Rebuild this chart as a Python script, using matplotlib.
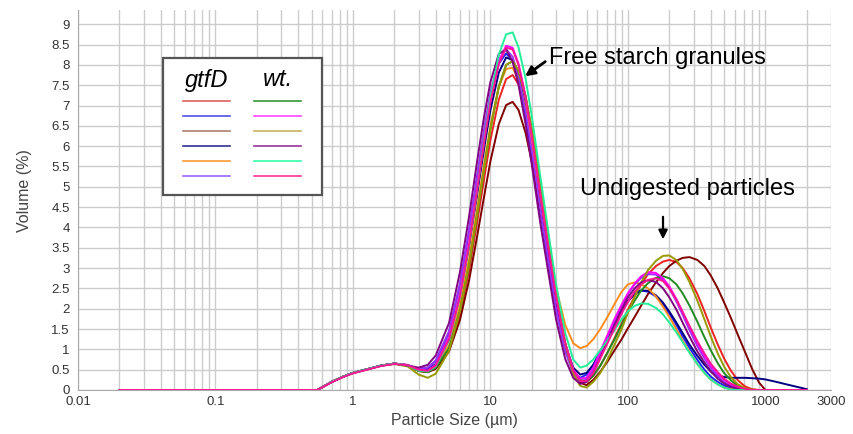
import numpy as np
import matplotlib
matplotlib.use("Agg")
import matplotlib.pyplot as plt
from matplotlib.lines import Line2D
from matplotlib.patches import Rectangle
from matplotlib.ticker import FixedLocator, LogLocator, NullFormatter

plt.rcParams['font.family'] = ['Liberation Sans', 'DejaVu Sans']

# particle size bins (um)
sizes = [0.02, 0.55, 0.7, 0.85, 1.0, 1.3, 1.6, 2.0, 2.5, 3.0, 3.5, 4.0, 5.0, 6.0, 7.0,
         8.0, 9.0, 10, 11.5, 13, 14.5, 16, 18, 20, 23, 26, 30, 35, 40, 45, 50, 56, 63, 71,
         80, 90, 100, 112, 125, 140, 160, 180, 200, 225, 250, 280, 320, 360, 400, 450, 500,
         560, 630, 710, 800, 900, 1000, 1200, 1500, 2000]

# gtfD samples (volume %)
gtfd_1 = [0, 0, 0.2, 0.33, 0.42, 0.52, 0.6, 0.65, 0.61, 0.47, 0.44, 0.54, 1.0, 1.86, 2.95, 4.12, 5.2, 6.15, 7.14, 7.65, 7.75, 7.52, 6.92, 6.12, 4.86, 3.72, 2.3, 1.12, 0.45, 0.2, 0.2, 0.35, 0.6, 0.92, 1.28, 1.64, 1.98, 2.3, 2.6, 2.85, 3.05, 3.16, 3.2, 3.15, 3.0, 2.75, 2.36, 1.94, 1.54, 1.12, 0.78, 0.48, 0.24, 0.09, 0.02, 0, 0, 0, 0, 0]
gtfd_2 = [0, 0, 0.2, 0.33, 0.42, 0.52, 0.6, 0.65, 0.61, 0.52, 0.55, 0.72, 1.42, 2.58, 3.91, 5.21, 6.34, 7.23, 8.03, 8.28, 8.1, 7.64, 6.76, 5.81, 4.42, 3.29, 2.0, 0.98, 0.45, 0.3, 0.38, 0.62, 0.95, 1.3, 1.65, 1.95, 2.2, 2.38, 2.45, 2.42, 2.3, 2.1, 1.88, 1.6, 1.32, 1.04, 0.74, 0.5, 0.33, 0.2, 0.11, 0.05, 0.01, 0, 0, 0, 0, 0, 0, 0]
gtfd_3 = [0, 0, 0.2, 0.33, 0.42, 0.52, 0.6, 0.65, 0.61, 0.47, 0.44, 0.52, 0.95, 1.72, 2.71, 3.78, 4.77, 5.63, 6.54, 7.01, 7.09, 6.89, 6.33, 5.61, 4.46, 3.44, 2.2, 1.1, 0.45, 0.18, 0.12, 0.25, 0.45, 0.7, 0.98, 1.25, 1.52, 1.8, 2.08, 2.36, 2.65, 2.88, 3.05, 3.18, 3.25, 3.27, 3.2, 3.05, 2.82, 2.5, 2.16, 1.78, 1.36, 0.94, 0.52, 0.18, 0, 0, 0, 0]
gtfd_4 = [0, 0, 0.2, 0.33, 0.42, 0.52, 0.6, 0.65, 0.61, 0.5, 0.5, 0.64, 1.28, 2.3, 3.54, 4.81, 5.95, 6.89, 7.81, 8.18, 8.12, 7.75, 6.98, 6.06, 4.7, 3.54, 2.2, 1.1, 0.55, 0.38, 0.42, 0.62, 0.92, 1.25, 1.6, 1.92, 2.18, 2.36, 2.45, 2.44, 2.33, 2.15, 1.93, 1.66, 1.4, 1.12, 0.84, 0.62, 0.46, 0.36, 0.32, 0.3, 0.3, 0.3, 0.29, 0.28, 0.26, 0.2, 0.12, 0.02]
gtfd_5 = [0, 0, 0.2, 0.33, 0.42, 0.52, 0.6, 0.65, 0.61, 0.48, 0.46, 0.58, 1.1, 2.07, 3.23, 4.46, 5.57, 6.5, 7.46, 7.9, 7.93, 7.63, 6.95, 6.08, 4.78, 3.65, 2.52, 1.6, 1.15, 1.03, 1.08, 1.25, 1.5, 1.8, 2.12, 2.42, 2.6, 2.65, 2.6, 2.5, 2.3, 2.05, 1.8, 1.5, 1.22, 0.94, 0.64, 0.42, 0.26, 0.14, 0.06, 0.02, 0, 0, 0, 0, 0, 0, 0, 0]
gtfd_6 = [0, 0, 0.2, 0.33, 0.42, 0.52, 0.6, 0.65, 0.61, 0.53, 0.55, 0.72, 1.45, 2.62, 3.96, 5.28, 6.42, 7.32, 8.13, 8.38, 8.2, 7.72, 6.85, 5.88, 4.47, 3.33, 2.0, 0.95, 0.4, 0.22, 0.26, 0.5, 0.9, 1.3, 1.7, 2.06, 2.36, 2.6, 2.76, 2.85, 2.84, 2.7, 2.5, 2.18, 1.85, 1.48, 1.08, 0.78, 0.54, 0.34, 0.2, 0.1, 0.04, 0, 0, 0, 0, 0, 0, 0]

# wild type samples (volume %)
wt_1 = [0, 0, 0.2, 0.33, 0.42, 0.52, 0.6, 0.65, 0.61, 0.47, 0.44, 0.55, 1.03, 1.95, 3.08, 4.3, 5.44, 6.42, 7.46, 8.0, 8.09, 7.85, 7.23, 6.4, 5.08, 3.9, 2.38, 1.15, 0.5, 0.25, 0.2, 0.35, 0.6, 0.92, 1.25, 1.6, 1.92, 2.2, 2.45, 2.63, 2.76, 2.8, 2.75, 2.6, 2.38, 2.08, 1.68, 1.3, 0.98, 0.66, 0.42, 0.24, 0.1, 0.03, 0, 0, 0, 0, 0, 0]
wt_2 = [0, 0, 0.2, 0.33, 0.42, 0.52, 0.6, 0.65, 0.62, 0.5, 0.48, 0.62, 1.3, 2.38, 3.67, 4.99, 6.17, 7.14, 8.09, 8.47, 8.42, 8.03, 7.23, 6.28, 4.87, 3.67, 2.3, 1.15, 0.5, 0.28, 0.3, 0.55, 0.95, 1.35, 1.75, 2.1, 2.38, 2.62, 2.8, 2.9, 2.88, 2.75, 2.55, 2.24, 1.92, 1.56, 1.16, 0.85, 0.6, 0.4, 0.25, 0.14, 0.07, 0.02, 0, 0, 0, 0, 0, 0]
wt_3 = [0, 0, 0.2, 0.33, 0.42, 0.52, 0.6, 0.64, 0.58, 0.38, 0.3, 0.4, 0.96, 1.94, 3.1, 4.32, 5.45, 6.42, 7.46, 8.0, 8.09, 7.86, 7.23, 6.4, 5.08, 3.92, 2.42, 1.15, 0.4, 0.1, 0.06, 0.2, 0.42, 0.75, 1.12, 1.5, 1.9, 2.3, 2.65, 2.95, 3.18, 3.3, 3.31, 3.2, 2.98, 2.66, 2.2, 1.74, 1.32, 0.9, 0.58, 0.32, 0.14, 0.05, 0.01, 0, 0, 0, 0, 0]
wt_4 = [0, 0, 0.2, 0.33, 0.42, 0.52, 0.6, 0.65, 0.6, 0.55, 0.62, 0.85, 1.65, 2.9, 4.28, 5.63, 6.74, 7.58, 8.27, 8.38, 8.08, 7.51, 6.55, 5.54, 4.13, 3.02, 1.74, 0.76, 0.3, 0.15, 0.2, 0.42, 0.8, 1.2, 1.6, 1.98, 2.28, 2.5, 2.65, 2.7, 2.66, 2.5, 2.28, 1.98, 1.66, 1.32, 0.95, 0.68, 0.46, 0.28, 0.16, 0.08, 0.03, 0, 0, 0, 0, 0, 0, 0]
wt_5 = [0, 0, 0.2, 0.33, 0.42, 0.52, 0.6, 0.65, 0.61, 0.48, 0.46, 0.58, 1.22, 2.3, 3.58, 4.93, 6.16, 7.19, 8.25, 8.75, 8.8, 8.43, 7.67, 6.73, 5.28, 4.03, 2.6, 1.4, 0.75, 0.55, 0.6, 0.75, 0.98, 1.22, 1.48, 1.74, 1.94, 2.07, 2.13, 2.12, 2.02, 1.86, 1.66, 1.42, 1.18, 0.92, 0.64, 0.42, 0.26, 0.14, 0.06, 0.01, 0, 0, 0, 0, 0, 0, 0, 0]
wt_6 = [0, 0, 0.19, 0.32, 0.41, 0.51, 0.59, 0.64, 0.61, 0.5, 0.47, 0.6, 1.25, 2.3, 3.6, 4.92, 6.1, 7.08, 8.02, 8.42, 8.38, 8.0, 7.2, 6.25, 4.85, 3.65, 2.3, 1.15, 0.48, 0.22, 0.22, 0.42, 0.78, 1.15, 1.52, 1.88, 2.17, 2.42, 2.6, 2.71, 2.75, 2.68, 2.5, 2.22, 1.92, 1.58, 1.2, 0.9, 0.65, 0.44, 0.28, 0.16, 0.08, 0.03, 0, 0, 0, 0, 0, 0]

gtfd_series = [gtfd_1, gtfd_2, gtfd_3, gtfd_4, gtfd_5, gtfd_6]
wt_series = [wt_1, wt_2, wt_3, wt_4, wt_5, wt_6]
gtfd_colors = ['#ee2222', '#2222ff', '#800000', '#000080', '#ff8c1a', '#9933ff']
wt_colors = ['#228b22', '#ff00ff', '#999900', '#800080', '#22ee99', '#ff1493']
gtfd_legend_colors = ['#e06060', '#5050e0', '#b08070', '#303090', '#ff9933', '#9966ff']
wt_legend_colors = ['#339933', '#ff44ff', '#c8b060', '#993399', '#33ffaa', '#ff3399']

xticks = [0.01, 0.1, 1, 10, 100, 1000, 3000]
yticks = np.arange(0, 9.01, 0.5)

W, H = 854, 434
def fx(px):
    return px / W
def fy(py):
    return 1 - py / H

fig = plt.figure(figsize=(W / 100, H / 100), dpi=100)
ax = fig.add_axes([fx(78), 44 / H, 753 / W, 380 / H])

for vals, c in zip(gtfd_series, gtfd_colors):
    ax.plot(sizes, vals, color=c, lw=1.4)
for vals, c in zip(wt_series, wt_colors):
    ax.plot(sizes, vals, color=c, lw=1.4)

ax.set_xscale('log')
ax.set_xlim(0.01, 3000)
ax.set_ylim(0, 9.35)
ax.xaxis.set_major_locator(FixedLocator(xticks))
ax.set_xticklabels(['%g' % t for t in xticks])
ax.xaxis.set_minor_locator(LogLocator(base=10, subs=np.arange(2, 10)))
ax.xaxis.set_minor_formatter(NullFormatter())
ax.set_yticks(yticks)
ax.set_yticklabels(['%g' % t for t in yticks])
ax.tick_params(which='both', length=0, labelsize=9.5, labelcolor='#333333')
ax.tick_params(axis='y', pad=6)
ax.tick_params(axis='x', pad=4)
ax.grid(which='major', color='#cccccc', lw=1)
ax.grid(which='minor', axis='x', color='#cccccc', lw=1)
ax.set_axisbelow(True)
for s in ['top', 'right']:
    ax.spines[s].set_visible(False)
for s in ['left', 'bottom']:
    ax.spines[s].set_color('#aaaaaa')

ax.set_xlabel('Particle Size (µm)', fontsize=11.5, color='#444444', labelpad=4)
ax.set_ylabel('Volume (%)', fontsize=11.5, color='#444444')
ax.yaxis.set_label_coords(-0.061, 0.526)

# annotations
ax.annotate('', xy=(17.2, 7.68), xytext=(26.0, 8.12),
            arrowprops=dict(arrowstyle='-|>', color='black', lw=2, mutation_scale=14))
ax.text(26.8, 8.17, 'Free starch granules', fontsize=17, va='center', ha='left')
ax.annotate('', xy=(180, 3.64), xytext=(180, 4.33),
            arrowprops=dict(arrowstyle='-|>', color='black', lw=1.6, mutation_scale=13))
ax.text(269, 4.95, 'Undigested particles', fontsize=17, va='center', ha='center')

# legend box
fig.add_artist(Rectangle((fx(163), fy(195)), fx(322) - fx(163), fy(58) - fy(195),
                         transform=fig.transFigure, facecolor='white', edgecolor='#555555', lw=1.6))
fig.text(fx(207), fy(80), 'gtfD', style='italic', fontsize=17, ha='center', va='center')
fig.text(fx(278), fy(80), 'wt.', style='italic', fontsize=17, ha='center', va='center')
for i in range(6):
    yy = fy(101 + 15 * i)
    fig.add_artist(Line2D([fx(183), fx(230)], [yy, yy], color=gtfd_legend_colors[i], lw=1.2))
    fig.add_artist(Line2D([fx(254), fx(301)], [yy, yy], color=wt_legend_colors[i], lw=1.2))

fig.savefig('out.png', dpi=100)
